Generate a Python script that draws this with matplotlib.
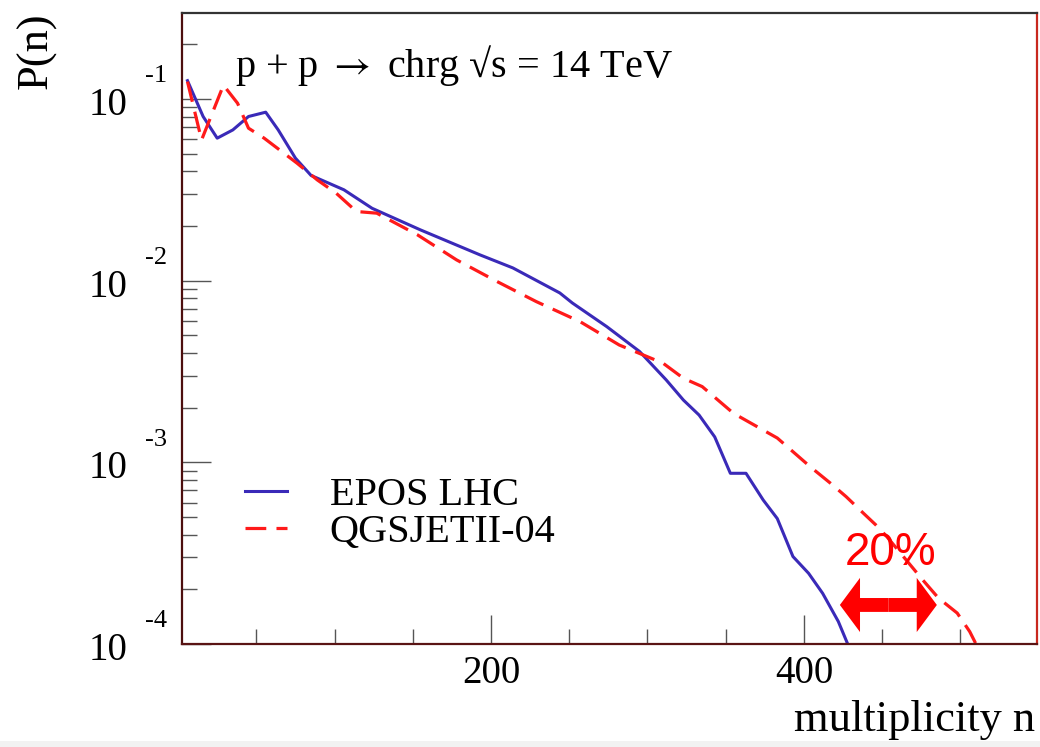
import matplotlib
matplotlib.use("Agg")
import matplotlib.pyplot as plt
from matplotlib.ticker import FixedLocator, LogLocator, NullFormatter
from matplotlib.patches import Rectangle

# EPOS LHC multiplicity distribution
epos_n = [6, 16, 25, 35, 45, 56, 64, 75, 85, 106, 124, 155, 193, 214, 244, 252,
          274, 295, 312, 323, 333, 343, 353, 363, 374, 383, 393, 403, 412, 422, 428]
epos_p = [0.126, 0.080, 0.0608, 0.0675, 0.080, 0.0845, 0.0675, 0.0472, 0.0379,
          0.0316, 0.0250, 0.0190, 0.01385, 0.01174, 0.00855, 0.00753, 0.00558,
          0.00407, 0.00284, 0.00220, 0.00182, 0.00138, 0.00087, 0.00087, 0.00062,
          0.00049, 0.000303, 0.000245, 0.000190, 0.000133, 0.0001]

# QGSJETII-04 multiplicity distribution
qgs_n = [6, 15, 29, 38, 45, 55, 76, 89, 101, 114, 127, 153, 178, 204, 229, 257,
         282, 310, 323, 335, 355, 383, 404, 417, 427, 438, 446, 453, 476, 486, 498,
         506, 510]
qgs_p = [0.1245, 0.0594, 0.119, 0.0947, 0.069, 0.0608, 0.0443, 0.0358, 0.0303,
         0.0240, 0.0235, 0.01786, 0.0130, 0.00987, 0.00766, 0.00594, 0.00442,
         0.00351, 0.00290, 0.00261, 0.00186, 0.00136, 0.000946, 0.000767, 0.000647,
         0.000525, 0.000452, 0.000390, 0.000225, 0.000179, 0.000148, 0.000117,
         0.0001]

x_major = [0, 200, 400]
x_labels = ["", "200", "400"]
x_minor = [50, 100, 150, 250, 300, 350, 450, 500]
decades = [-4, -3, -2, -1]

serif = ["Liberation Serif", "DejaVu Serif"]
plt.rcParams["font.family"] = serif
plt.rcParams["mathtext.fontset"] = "stix"

fig = plt.figure(figsize=(10.4, 7.47), dpi=100)
ax = fig.add_axes([182 / 1040, 1 - 644 / 747, (1037 - 182) / 1040, (644 - 13) / 747])

blue = "#3a2ab8"
red = "#ff1a1a"
ax.plot(epos_n, epos_p, color=blue, lw=2.2, label="EPOS LHC")
ax.plot(qgs_n, qgs_p, color=red, lw=2.3, dashes=(6.5, 3.2), label="QGSJETII-04")

ax.set_yscale("log")
ax.set_xlim(2.5, 549)
ax.set_ylim(1e-4, 0.297)

# ROOT style ticks: inside, left and bottom only
ax.xaxis.set_major_locator(FixedLocator(x_major))
ax.set_xticklabels(x_labels)
ax.xaxis.set_minor_locator(FixedLocator(x_minor))
ax.yaxis.set_major_locator(LogLocator(base=10, numticks=10))
ax.yaxis.set_minor_locator(LogLocator(base=10, subs=range(2, 10), numticks=20))
ax.yaxis.set_major_formatter(NullFormatter())
ax.yaxis.set_minor_formatter(NullFormatter())
ax.tick_params(which="both", direction="in", color="#555555", width=1.0)
ax.tick_params(which="major", length=21)
ax.tick_params(which="minor", length=11)
ax.tick_params(axis="x", which="major", labelsize=28, pad=8)

# y labels as 10 with a detached exponent
for e in decades:
    ax.annotate("10", xy=(0, 10.0 ** e), xycoords=("axes fraction", "data"),
                xytext=(-39, -11.5), textcoords="offset points",
                ha="right", va="baseline", fontsize=28, annotation_clip=False)
    ax.annotate(str(e), xy=(0, 10.0 ** e), xycoords=("axes fraction", "data"),
                xytext=(-27, 12), textcoords="offset points",
                ha="left", va="baseline", fontsize=19, annotation_clip=False)

# frame
ax.spines["top"].set_color("#333333")
ax.spines["left"].set_color("#4d0f0f")
ax.spines["bottom"].set_color("#5a1414")
ax.spines["right"].set_color("#c8281e")
for s in ax.spines.values():
    s.set_linewidth(1.6)

lgd = ax.legend(loc="upper left", bbox_to_anchor=(63 / 855, 1 - (477 - 13) / 631),
                frameon=False, fontsize=29, handlelength=1.05, handletextpad=1.05,
                labelspacing=0.0, borderaxespad=0, borderpad=0)

# 20% shift annotation
arrow_style = "simple,head_length=1.45,head_width=3.9,tail_width=1.0"
ax.annotate("", xy=(423, 1.64e-4), xytext=(454, 1.64e-4),
            arrowprops=dict(arrowstyle=arrow_style, color="red", shrinkA=0, shrinkB=0,
                            lw=0, mutation_scale=10))
ax.annotate("", xy=(485, 1.64e-4), xytext=(454, 1.64e-4),
            arrowprops=dict(arrowstyle=arrow_style, color="red", shrinkA=0, shrinkB=0,
                            lw=0, mutation_scale=10))
ax.text(426, 2.72e-4, "20%", color="red", fontsize=33, ha="left", va="baseline",
        family=["Liberation Sans", "DejaVu Sans"])

fig.text(235 / 1040, 1 - 77 / 747, "p + p $\\rightarrow$ chrg \u221as = 14 TeV", fontsize=29,
         ha="left", va="baseline")
fig.text(1035 / 1040, 1 - 731 / 747, "multiplicity n", fontsize=32, ha="right", va="baseline")
fig.text(36 / 1040, 1 - 12 / 747, "P(n)", fontsize=32, rotation=90, ha="center", va="top")

# light strip at the bottom edge
fig.patches.append(Rectangle((0, 0), 1, 6 / 747, transform=fig.transFigure,
                             facecolor="#f2f2f2", edgecolor="none", zorder=-1))

fig.savefig("out.png", dpi=100)
